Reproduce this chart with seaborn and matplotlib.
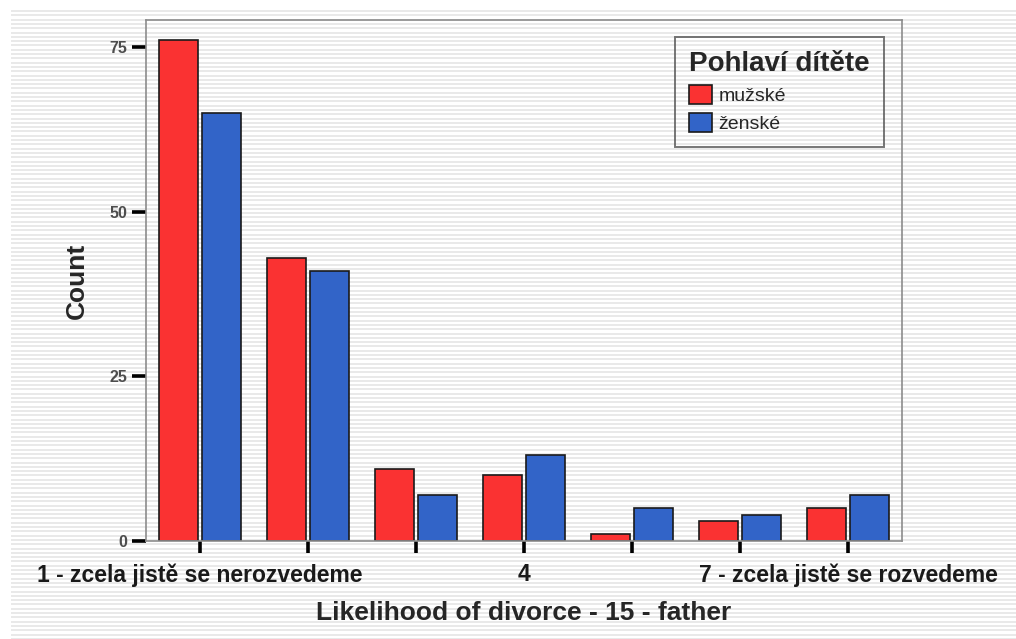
import numpy as np
import pandas as pd
import seaborn as sns
import matplotlib.pyplot as plt

# --- Data ---
categories = ["1 - zcela jistě se nerozvedeme", "2", "3", "4", "5", "6",
              "7 - zcela jistě se rozvedeme"]
tick_labels = ["1 - zcela jistě se nerozvedeme", "", "", "4", "", "",
               "7 - zcela jistě se rozvedeme"]
male_counts = [76, 43, 11, 10, 1, 3, 5]
female_counts = [65, 41, 7, 13, 5, 4, 7]
hue_names = ["mužské", "ženské"]
y_ticks = [0, 25, 50, 75]

df = pd.DataFrame({
    "category": categories * 2,
    "count": male_counts + female_counts,
    "Pohlaví dítěte": [hue_names[0]] * len(categories) + [hue_names[1]] * len(categories),
})

sns.set_style("white")
plt.rcParams["font.family"] = ["Liberation Sans", "DejaVu Sans"]

fig = plt.figure(figsize=(10.16, 6.39), dpi=100)

# striped slide background
bg = fig.add_axes([0, 0, 1, 1], zorder=-5)
bg.set_xlim(0, 1016)
bg.set_ylim(639, 0)
bg.hlines(np.arange(11, 639, 4.3), 11, 1016, color="#e3e3e3", lw=1.1)
bg.axis("off")

ax = fig.add_axes([146 / 1016, 1 - 541 / 639, 756 / 1016, 521 / 639])
ax.patch.set_alpha(0)

sns.barplot(data=df, x="category", y="count", hue="Pohlaví dítěte",
            order=categories, hue_order=hue_names,
            palette=["#fa3232", "#3264c8"], width=0.8, gap=0.1,
            edgecolor="#1a1a1a", linewidth=1.2, saturation=1, ax=ax)

ax.set_xlim(-0.5, 6.5)
ax.set_ylim(0, 79.1)
ax.set_yticks(y_ticks)
ax.set_yticklabels([str(t) for t in y_ticks], fontsize=11.5, fontweight="bold",
                   color="#4d4d4d")
ax.set_xticks(range(len(categories)))
ax.set_xticklabels(tick_labels, fontsize=16.5, fontweight="bold", color="#1a1a1a")

ax.tick_params(axis="y", left=True, direction="out", length=10, width=2.6,
               color="black", pad=3.5)
ax.tick_params(axis="x", bottom=True, direction="out", length=8.5, width=2.6,
               color="black", pad=7.5)

for sp in ax.spines.values():
    sp.set_color("#8c8c8c")
    sp.set_linewidth(1.2)

ax.set_ylabel("Count", fontsize=19, fontweight="bold", labelpad=15)
ax.set_xlabel("Likelihood of divorce - 15 - father", fontsize=19,
              fontweight="bold", labelpad=10)

leg = ax.legend(title="Pohlaví dítěte", loc="upper right",
                bbox_to_anchor=(0.976, 0.967), borderaxespad=0, fontsize=14,
                title_fontproperties={"weight": "bold", "size": 20},
                frameon=True, fancybox=False, edgecolor="#555555",
                handlelength=1.15, handleheight=1.15, handletextpad=0.35,
                labelspacing=0.4, borderpad=0.72, alignment="left")
leg.get_frame().set_facecolor("none")
leg.get_frame().set_linewidth(1.4)

fig.savefig("out.png", dpi=100)
